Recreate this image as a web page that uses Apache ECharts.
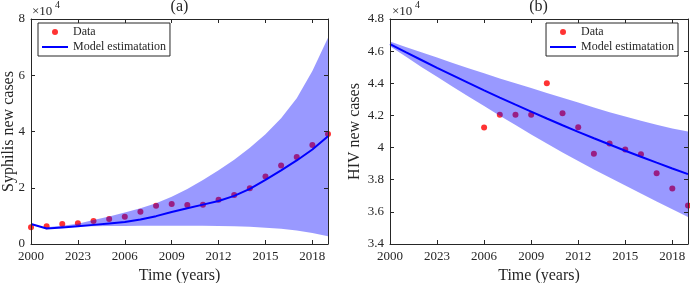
<!DOCTYPE html>
<html>
<head>
<meta charset="utf-8">
<script src="https://cdn.jsdelivr.net/npm/echarts@6/dist/echarts.min.js"></script>
<style>
html,body{margin:0;padding:0;background:#fff;}
#chart{width:690px;height:283px;}
</style>
</head>
<body>
<div id="chart"></div>
<script>
// ---- data (values in units of 10^4) ----
const years = [2000,2001,2002,2003,2004,2005,2006,2007,2008,2009,2010,2011,2012,2013,2014,2015,2016,2017,2018,2019];
const xTickLabels = ['2000','2023','2006','2009','2012','2015','2018'];
const syphilisTicks = [0,2,4,6,8];
const hivTicks = [3.4,3.6,3.8,4.0,4.2,4.4,4.6,4.8];

const syphilisData  = [0.60,0.63,0.71,0.74,0.82,0.89,0.97,1.15,1.36,1.42,1.39,1.40,1.57,1.74,1.98,2.40,2.79,3.09,3.52,3.91];
const syphilisModel = [0.71,0.55,0.59,0.63,0.68,0.73,0.78,0.87,0.99,1.14,1.27,1.40,1.53,1.71,1.96,2.28,2.62,2.97,3.36,3.83];
const syphilisUpper = [null,0.60,0.65,0.72,0.85,0.98,1.12,1.27,1.45,1.68,1.96,2.28,2.62,3.00,3.42,3.90,4.47,5.18,6.15,7.33];
const syphilisLower = [null,0.58,0.60,0.62,0.63,0.64,0.64,0.65,0.65,0.65,0.65,0.65,0.64,0.63,0.61,0.58,0.54,0.48,0.39,0.28];

const hivYears = [2006,2007,2008,2009,2010,2011,2012,2013,2014,2015,2016,2017,2018,2019];
const hivData  = [4.125,4.205,4.204,4.204,4.400,4.213,4.127,3.962,4.026,3.988,3.958,3.840,3.746,3.640];
const hivModel = [4.644,4.594,4.545,4.496,4.449,4.402,4.356,4.311,4.267,4.224,4.181,4.139,4.098,4.058,4.019,3.980,3.943,3.906,3.870,3.835];
const hivUpper = [4.660,4.626,4.593,4.560,4.527,4.494,4.462,4.430,4.400,4.370,4.340,4.310,4.280,4.250,4.220,4.193,4.167,4.142,4.118,4.100];
const hivLower = [4.630,4.566,4.502,4.440,4.378,4.318,4.258,4.198,4.140,4.082,4.025,3.970,3.916,3.864,3.814,3.764,3.714,3.665,3.617,3.568];

// ---- styling ----
const FONT = '"Liberation Serif","Times New Roman",serif';
const INK = '#262626';

const chart = echarts.init(document.getElementById('chart'), null, {renderer:'canvas'});

function pairs(xs, ys){ return xs.map((x,i)=>[x, ys[i]]); }

function xAxes(gi){
  return [{
    type:'value', gridIndex:gi, min:2000, max:2019, interval:3, position:'bottom', z:10,
    name:'Time (years)', nameLocation:'middle', nameGap:21,
    nameTextStyle:{fontFamily:FONT, fontSize:16, color:INK},
    axisLine:{show:true, onZero:false, lineStyle:{color:INK, width:1}},
    axisTick:{show:true, inside:true, length:4, lineStyle:{color:INK}},
    axisLabel:{show:true, margin:6, fontFamily:FONT, fontSize:13, color:INK, showMaxLabel:false,
      formatter:(v)=>{ const k=Math.round((v-2000)/3); return Math.abs((v-2000)/3-k)<1e-6 && xTickLabels[k]!==undefined ? xTickLabels[k] : ''; }},
    splitLine:{show:false}
  },{
    type:'value', gridIndex:gi, min:2000, max:2019, interval:3, position:'top', z:10,
    axisLine:{show:true, onZero:false, lineStyle:{color:INK, width:1}},
    axisTick:{show:true, inside:true, length:4, lineStyle:{color:INK}},
    axisLabel:{show:false}, splitLine:{show:false}
  }];
}
function yAxes(gi, ticks, interval, name, gap){
  const min = ticks[0], max = ticks[ticks.length-1];
  return [{
    type:'value', gridIndex:gi, min:min, max:max, interval:interval, position:'left', z:10,
    name:name, nameLocation:'middle', nameGap:gap, nameMoveOverlap:false,
    nameTextStyle:{fontFamily:FONT, fontSize:16, color:INK},
    axisLine:{show:true, onZero:false, lineStyle:{color:INK, width:1}},
    axisTick:{show:true, inside:true, length:4, lineStyle:{color:INK}},
    axisLabel:{show:true, margin:6, fontFamily:FONT, fontSize:13, color:INK, showMaxLabel:true, customValues:ticks},
    splitLine:{show:false}
  },{
    type:'value', gridIndex:gi, min:min, max:max, interval:interval, position:'right', z:10,
    axisLine:{show:true, onZero:false, lineStyle:{color:INK, width:1}},
    axisTick:{show:true, inside:true, length:4, lineStyle:{color:INK}},
    axisLabel:{show:false}, splitLine:{show:false}
  }];
}

function bandSeries(xi, yi, xs, up, lo){
  return {
    type:'custom', xAxisIndex:xi, yAxisIndex:yi, z:3, silent:true, clip:true,
    data:[[xs[0], up.find(v=>v!==null)]],
    renderItem:(params, api)=>{
      const pts=[];
      for(let i=0;i<xs.length;i++){ if(up[i]!==null) pts.push(api.coord([xs[i], up[i]])); }
      for(let i=xs.length-1;i>=0;i--){ if(lo[i]!==null) pts.push(api.coord([xs[i], lo[i]])); }
      return {type:'polygon', shape:{points:pts}, style:{fill:'rgba(0,0,255,0.4)', stroke:null}};
    }
  };
}

function legendFor(pos){
  return Object.assign({
    orient:'vertical', top:23,
    data:[
      {name:'Data', icon:'circle'},
      {name:'Model estimatation', icon:'path://M0,0 L26,0 L26,2 L0,2 Z', itemStyle:{color:'#0000ff'}}
    ],
    itemWidth:26, itemHeight:6, itemGap:3, padding:[3,4,3,4],
    borderColor:INK, borderWidth:1, backgroundColor:'#fff', borderRadius:0,
    selectedMode:false,
    textStyle:{fontFamily:FONT, fontSize:12, color:INK, lineHeight:12}
  }, pos);
}

const option = {
  animation:false,
  backgroundColor:'#fff',
  grid:[
    {left:31, top:19, width:297, height:225, outerBoundsMode:'none'},
    {left:390, top:19, width:298, height:225, outerBoundsMode:'none'}
  ],
  xAxis:[...xAxes(0), ...xAxes(1)],
  yAxis:[...yAxes(0, syphilisTicks, 2, 'Syphilis new cases', 14), ...yAxes(1, hivTicks, 0.2, 'HIV new cases', 27)],
  legend:[legendFor({left:38}), legendFor({right:12})],
  graphic:[
    {type:'text', x:179.5, y:7, style:{text:'(a)', font:'16px '+FONT, fill:INK, align:'center', verticalAlign:'middle'}},
    {type:'text', x:538.5, y:7, style:{text:'(b)', font:'16px '+FONT, fill:INK, align:'center', verticalAlign:'middle'}},
    {type:'text', x:32, y:11.5, style:{text:'\u00d710', font:'13px '+FONT, fill:INK, align:'left', verticalAlign:'middle'}},
    {type:'text', x:55, y:5.5, style:{text:'4', font:'10px '+FONT, fill:INK, align:'left', verticalAlign:'middle'}},
    {type:'text', x:392, y:11.5, style:{text:'\u00d710', font:'13px '+FONT, fill:INK, align:'left', verticalAlign:'middle'}},
    {type:'text', x:415, y:5.5, style:{text:'4', font:'10px '+FONT, fill:INK, align:'left', verticalAlign:'middle'}}
  ],
  series:[
    {name:'Data', type:'scatter', xAxisIndex:0, yAxisIndex:0, z:2, clip:false,
     symbol:'circle', symbolSize:6, itemStyle:{color:'#ff0000'}, data:pairs(years, syphilisData)},
    bandSeries(0, 0, years, syphilisUpper, syphilisLower),
    {name:'Model estimatation', type:'line', xAxisIndex:0, yAxisIndex:0, z:4, symbol:'none', showSymbol:false,
     lineStyle:{color:'#0000ff', width:2}, itemStyle:{color:'#0000ff'}, data:pairs(years, syphilisModel)},

    {name:'Data', type:'scatter', xAxisIndex:2, yAxisIndex:2, z:2, clip:false,
     symbol:'circle', symbolSize:6, itemStyle:{color:'#ff0000'}, data:pairs(hivYears, hivData)},
    bandSeries(2, 2, years, hivUpper, hivLower),
    {name:'Model estimatation', type:'line', xAxisIndex:2, yAxisIndex:2, z:4, symbol:'none', showSymbol:false,
     lineStyle:{color:'#0000ff', width:2}, itemStyle:{color:'#0000ff'}, data:pairs(years, hivModel)}
  ]
};
chart.setOption(option);
</script>
</body>
</html>
